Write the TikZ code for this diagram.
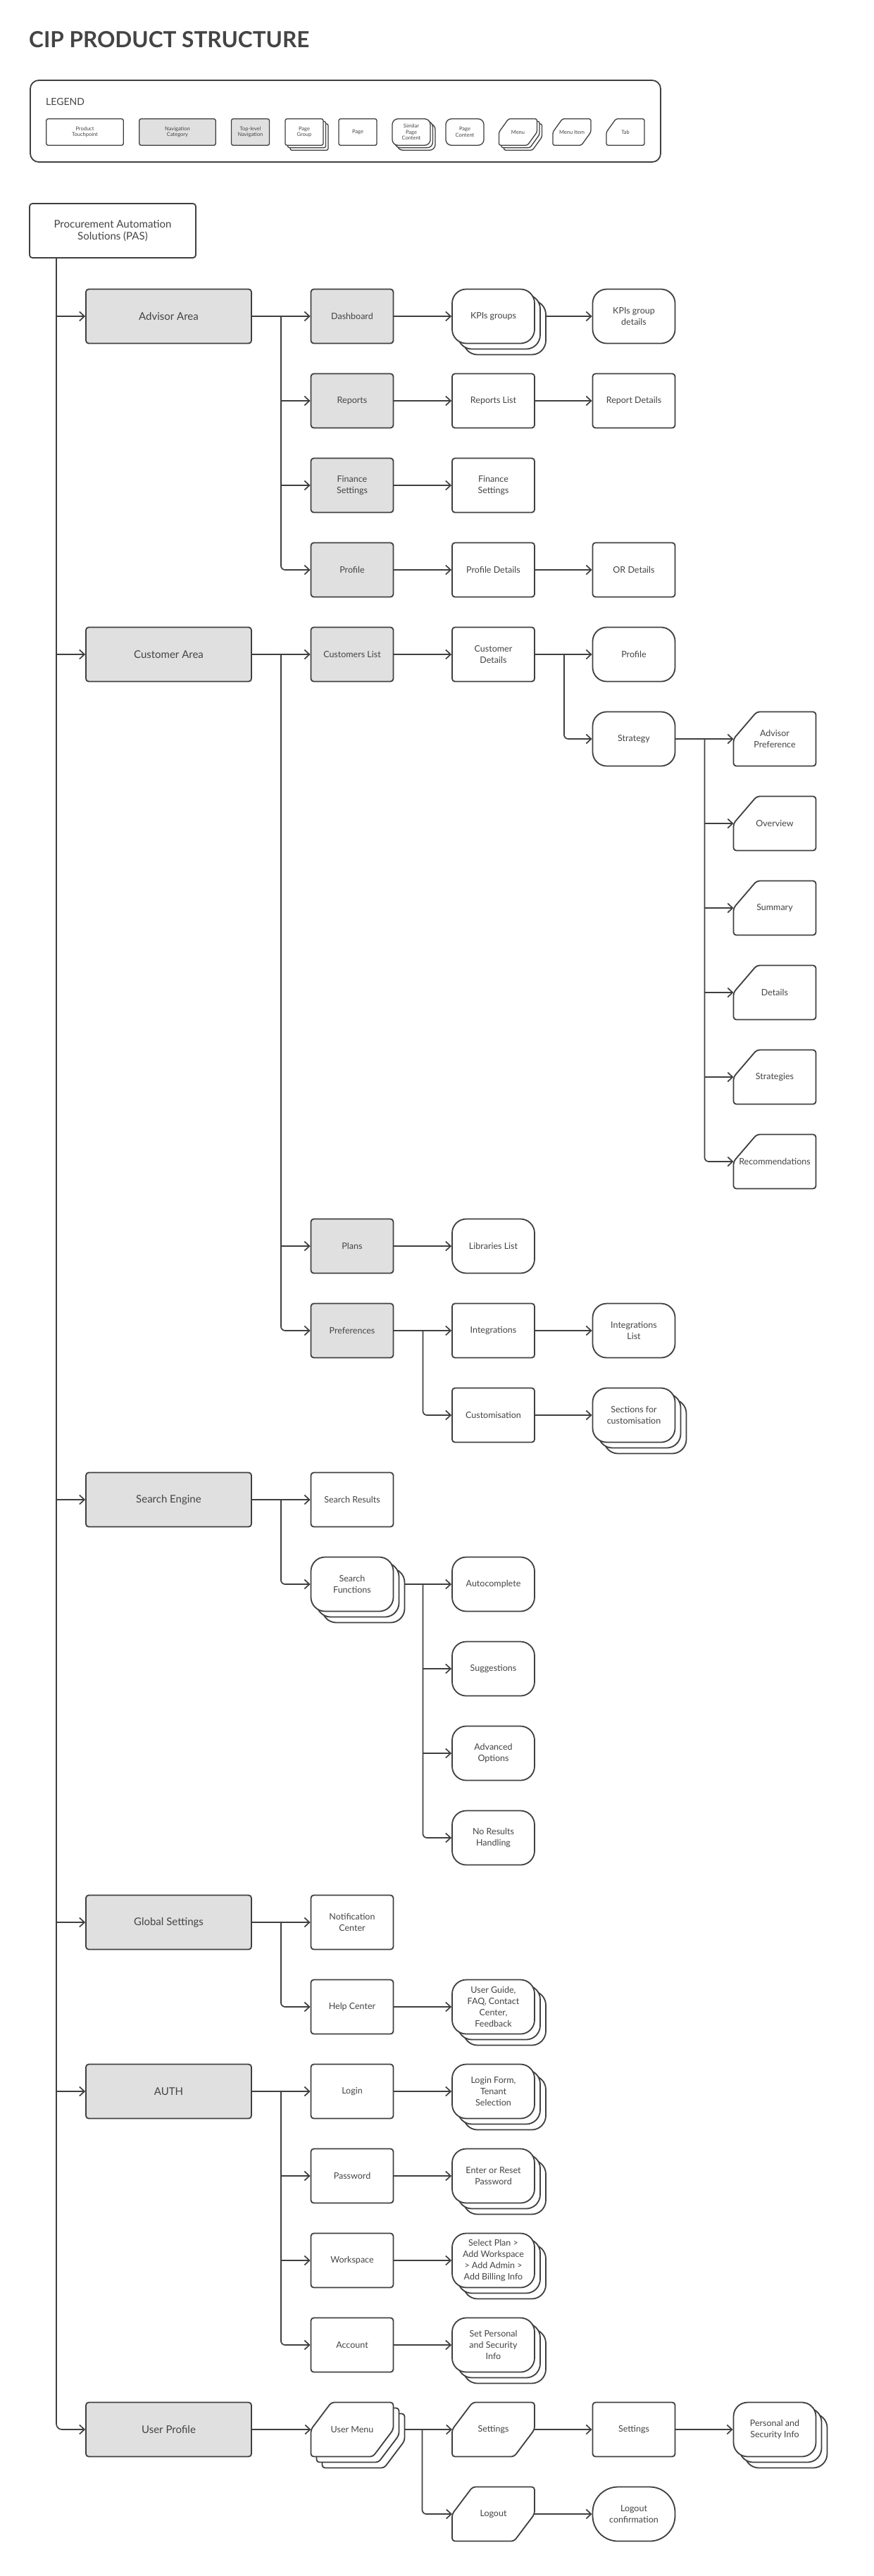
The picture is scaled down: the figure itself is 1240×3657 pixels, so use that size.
\documentclass[tikz,border=0pt]{standalone}
\usepackage{fontspec}
\setmainfont{Lato}
\usetikzlibrary{arrows.meta,shadows,backgrounds}
\definecolor{linegray}{HTML}{3F3F3F}
\definecolor{navgray}{HTML}{E0E0E0}
\definecolor{txtgray}{HTML}{444444}
\newcommand{\pagefont}{\fontsize{12.5}{16}\selectfont}
\newcommand{\catfont}{\fontsize{15}{16.5}\selectfont}
\newcommand{\legfont}{\fontsize{7.5}{8.5}\selectfont}
\newcommand{\menushape}[4][shapeline]{\draw[#1] ([shift={(#4,#4)}]#2.west) -- ([shift={(#4+#3,#4)}]#2.north west) -- ([shift={(#4,#4)}]#2.north east) -- ([shift={(#4,#4)}]#2.east) -- ([shift={(#4-#3,#4)}]#2.south east) -- ([shift={(#4,#4)}]#2.south west) -- cycle;}
\newcommand{\tabshape}[3][shapeline]{\draw[#1] (#2.west) -- ([xshift=#3]#2.north west) -- (#2.north east) -- (#2.south east) -- (#2.south west) -- cycle;}

\begin{document}
\begin{tikzpicture}[x=1pt, y=-1pt, >={Straight Barb[length=7pt,width=13pt]},
	every node/.style={text=txtgray, align=center, inner sep=2pt},
	box/.style={draw=linegray, fill=white, line width=1.8pt, rounded corners=4pt, minimum width=117pt, minimum height=77pt, font=\pagefont},
	page/.style={box},
	nav/.style={box, fill=navgray},
	cat/.style={box, fill=navgray, minimum width=235pt, font=\catfont},
	touch/.style={box, minimum width=236pt, font=\catfont},
	content/.style={box, rounded corners=20pt},
	stack/.style={double copy shadow={shadow xshift=#1, shadow yshift=-#1, fill=white, draw=linegray}},
	similar/.style={content, stack=8pt},
	outline/.style={box, draw=none, fill=none, outer sep=0pt},
	shapeline/.style={draw=linegray, fill=white, line width=1.8pt, rounded corners=4pt},
	leg/.style={box, line width=1.3pt, rounded corners=2.5pt, minimum width=54pt, minimum height=37.5pt, font=\legfont},
	legline/.style={shapeline, line width=1.3pt, rounded corners=2.5pt},
	link/.style={draw=linegray, line width=1.7pt, ->}]

	\useasboundingbox (0,0) rectangle (1240,3657);

	\node[anchor=base west, font=\fontsize{31.5}{36}\selectfont\bfseries] (title) at (39,67) {CIP PRODUCT STRUCTURE};
	\node[draw=linegray, line width=1.8pt, rounded corners=12pt, minimum width=895pt, minimum height=116pt] (legframe) at (490.5,172) {};
	\node[anchor=base west, font=\fontsize{14}{16}\selectfont] (legtitle) at (63,149.5) {LEGEND};
	\node[leg, minimum width=109.5pt] (ltouch) at (120.5,187.5) {Product\\Touchpoint};
	\node[leg, fill=navgray, minimum width=108.5pt] (lcat) at (252,187.5) {Navigation\\Category};
	\node[leg, fill=navgray] (lnav) at (355.5,187.5) {Top-level\\Navigation};
	\node[leg, stack=3.5pt] (lgroup) at (432,187.5) {Page\\Group};
	\node[leg] (lpage) at (508,187.5) {Page};
	\node[leg, rounded corners=8pt, stack=3.5pt] (lsimilar) at (584,187.5) {Similar\\Page\\Content};
	\node[leg, rounded corners=8pt] (lcontent) at (660,187.5) {Page\\Content};
	\node[leg, draw=none, fill=none, outer sep=0pt] (lmenu) at (735.5,187.5) {Menu};
	\node[leg, draw=none, fill=none, outer sep=0pt] (litem) at (812,187.5) {Menu Item};
	\node[leg, draw=none, fill=none, outer sep=0pt] (ltab) at (888,187.5) {Tab};

	\node[touch] (pas) at (160,327.5) {Procurement Automation\\Solutions (PAS)};
	\coordinate (trunk) at ([xshift=-80pt]pas.south);

	\node[cat] (advisor) at (239.5,449) {Advisor Area};
	\node[cat] (customer) at (239.5,929) {Customer Area};
	\node[cat] (search) at (239.5,2129) {Search Engine};
	\node[cat] (global) at (239.5,2729) {Global Settings};
	\node[cat] (auth) at (239.5,2969) {AUTH};
	\node[cat] (userprof) at (239.5,3449) {User Profile};

	\node[nav] (dash) at (500,449) {Dashboard};
	\node[nav] (reports) at (500,569) {Reports};
	\node[nav] (finance) at (500,689) {Finance\\Settings};
	\node[nav] (profile) at (500,809) {Profile};
	\node[nav] (custlist) at (500,929) {Customers List};
	\node[nav] (plans) at (500,1769) {Plans};
	\node[nav] (prefs) at (500,1889) {Preferences};
	\node[page] (sresults) at (500,2129) {Search Results};
	\node[similar] (sfunc) at (500,2249) {Search\\Functions};
	\node[page] (notif) at (500,2729) {Notification\\Center};
	\node[page] (help) at (500,2849) {Help Center};
	\node[page] (login) at (500,2969) {Login};
	\node[page] (password) at (500,3089) {Password};
	\node[page] (workspace) at (500,3209) {Workspace};
	\node[page] (account) at (500,3329) {Account};
	\node[outline] (usermenu) at (500,3449) {User Menu};

	\node[similar] (kpis) at (700.5,449) {KPIs groups};
	\node[page] (replist) at (700.5,569) {Reports List};
	\node[page] (finpage) at (700.5,689) {Finance\\Settings};
	\node[page] (profdet) at (700.5,809) {Profile Details};
	\node[page] (custdet) at (700.5,929) {Customer\\Details};
	\node[content] (libs) at (700.5,1769) {Libraries List};
	\node[page] (integ) at (700.5,1889) {Integrations};
	\node[page] (custom) at (700.5,2009) {Customisation};
	\node[content] (autocomp) at (700.5,2249) {Autocomplete};
	\node[content] (suggest) at (700.5,2369) {Suggestions};
	\node[content] (advopt) at (700.5,2489) {Advanced\\Options};
	\node[content] (nores) at (700.5,2609) {No Results\\Handling};
	\node[similar] (guide) at (700.5,2849) {User Guide,\\FAQ, Contact\\Center,\\Feedback};
	\node[similar] (loginform) at (700.5,2969) {Login Form,\\Tenant\\Selection};
	\node[similar] (resetpw) at (700.5,3089) {Enter or Reset\\Password};
	\node[similar] (selplan) at (700.5,3209) {Select Plan >\\Add Workspace\\> Add Admin >\\Add Billing Info};
	\node[similar] (setinfo) at (700.5,3329) {Set Personal\\and Security\\Info};
	\node[outline] (usettings) at (700.5,3449) {Settings};
	\node[outline] (logout) at (700.5,3569) {Logout};

	\node[content] (kpidet) at (900,449) {KPIs group\\details};
	\node[page] (repdet) at (900,569) {Report Details};
	\node[page] (ordet) at (900,809) {OR Details};
	\node[content] (custprof) at (900,929) {Profile};
	\node[content] (strategy) at (900,1049) {Strategy};
	\node[content] (integlist) at (900,1889) {Integrations\\List};
	\node[similar] (sections) at (900,2009) {Sections for\\customisation};
	\node[page] (setpage) at (900,3449) {Settings};
	\node[content, rounded corners=36pt] (logoutconf) at (900,3569) {Logout\\confirmation};

	\node[outline] (advpref) at (1100,1049) {Advisor\\Preference};
	\node[outline] (overview) at (1100,1169) {Overview};
	\node[outline] (summary) at (1100,1289) {Summary};
	\node[outline] (details) at (1100,1409) {Details};
	\node[outline] (strategies) at (1100,1529) {Strategies};
	\node[outline] (recomm) at (1100,1649) {Recommendations};
	\node[similar] (secinfo) at (1100,3449) {Personal and\\Security Info};

	\begin{scope}[on background layer]
		\menushape[legline]{lmenu}{13.5}{7}
		\menushape[legline]{lmenu}{13.5}{3.5}
		\menushape[legline]{lmenu}{13.5}{0}
		\menushape[legline]{litem}{13.5}{0}
		\tabshape[legline]{ltab}{13.5pt}
		\menushape{usermenu}{29}{16}
		\menushape{usermenu}{29}{8}
		\menushape{usermenu}{29}{0}
		\menushape{usettings}{29}{0}
		\menushape{logout}{29}{0}
		\foreach \t in {advpref, overview, summary, details, strategies, recomm}
			\tabshape{\t}{33pt};
	\end{scope}

	\draw[link] (trunk |- advisor.west) -- (advisor.west);
	\draw[link] (trunk |- customer.west) -- (customer.west);
	\draw[link] (trunk |- search.west) -- (search.west);
	\draw[link] (trunk |- global.west) -- (global.west);
	\draw[link] (trunk |- auth.west) -- (auth.west);
	\draw[link, rounded corners=8pt] (trunk) |- (userprof.west);

	\draw[link] (advisor.east) -- (dash.west);
	\draw[link] (advisor.east) ++(41,0) |- (reports.west);
	\draw[link] (advisor.east) ++(41,0) |- (finance.west);
	\draw[link, rounded corners=6pt] (advisor.east) ++(41,0) |- (profile.west);
	\draw[link] (dash.east) -- (kpis.west);
	\draw[link] ([xshift=16pt]kpis.east) -- (kpidet.west);
	\draw[link] (reports.east) -- (replist.west);
	\draw[link] (replist.east) -- (repdet.west);
	\draw[link] (finance.east) -- (finpage.west);
	\draw[link] (profile.east) -- (profdet.west);
	\draw[link] (profdet.east) -- (ordet.west);

	\draw[link] (customer.east) -- (custlist.west);
	\draw[link] (customer.east) ++(41,0) |- (plans.west);
	\draw[link, rounded corners=6pt] (customer.east) ++(41,0) |- (prefs.west);
	\draw[link] (custlist.east) -- (custdet.west);
	\draw[link] (custdet.east) -- (custprof.west);
	\draw[link, rounded corners=6pt] (custdet.east) ++(41,0) |- (strategy.west);
	\draw[link] (strategy.east) -- (advpref.west);
	\draw[link] (strategy.east) ++(41,0) |- (overview.west);
	\draw[link] (strategy.east) ++(41,0) |- (summary.west);
	\draw[link] (strategy.east) ++(41,0) |- (details.west);
	\draw[link] (strategy.east) ++(41,0) |- (strategies.west);
	\draw[link, rounded corners=6pt] (strategy.east) ++(41,0) |- (recomm.west);
	\draw[link] (plans.east) -- (libs.west);
	\draw[link] (prefs.east) -- (integ.west);
	\draw[link, rounded corners=6pt] (prefs.east) ++(41,0) |- (custom.west);
	\draw[link] (integ.east) -- (integlist.west);
	\draw[link] (custom.east) -- (sections.west);

	\draw[link] (search.east) -- (sresults.west);
	\draw[link, rounded corners=6pt] (search.east) ++(41,0) |- (sfunc.west);
	\draw[link] ([xshift=16pt]sfunc.east) -- (autocomp.west);
	\draw[link] (sfunc.east) ++(41,0) |- (suggest.west);
	\draw[link] (sfunc.east) ++(41,0) |- (advopt.west);
	\draw[link, rounded corners=6pt] (sfunc.east) ++(41,0) |- (nores.west);

	\draw[link] (global.east) -- (notif.west);
	\draw[link, rounded corners=6pt] (global.east) ++(41,0) |- (help.west);
	\draw[link] (help.east) -- (guide.west);

	\draw[link] (auth.east) -- (login.west);
	\draw[link] (auth.east) ++(41,0) |- (password.west);
	\draw[link] (auth.east) ++(41,0) |- (workspace.west);
	\draw[link, rounded corners=6pt] (auth.east) ++(41,0) |- (account.west);
	\draw[link] (login.east) -- (loginform.west);
	\draw[link] (password.east) -- (resetpw.west);
	\draw[link] (workspace.east) -- (selplan.west);
	\draw[link] (account.east) -- (setinfo.west);

	\draw[link] (userprof.east) -- (usermenu.west);
	\draw[link] ([xshift=16pt]usermenu.east) -- (usettings.west);
	\draw[link, rounded corners=6pt] (usermenu.east) ++(41,0) |- (logout.west);
	\draw[link] (usettings.east) -- (setpage.west);
	\draw[link] (setpage.east) -- (secinfo.west);
	\draw[link] (logout.east) -- (logoutconf.west);
\end{tikzpicture}
\end{document}
